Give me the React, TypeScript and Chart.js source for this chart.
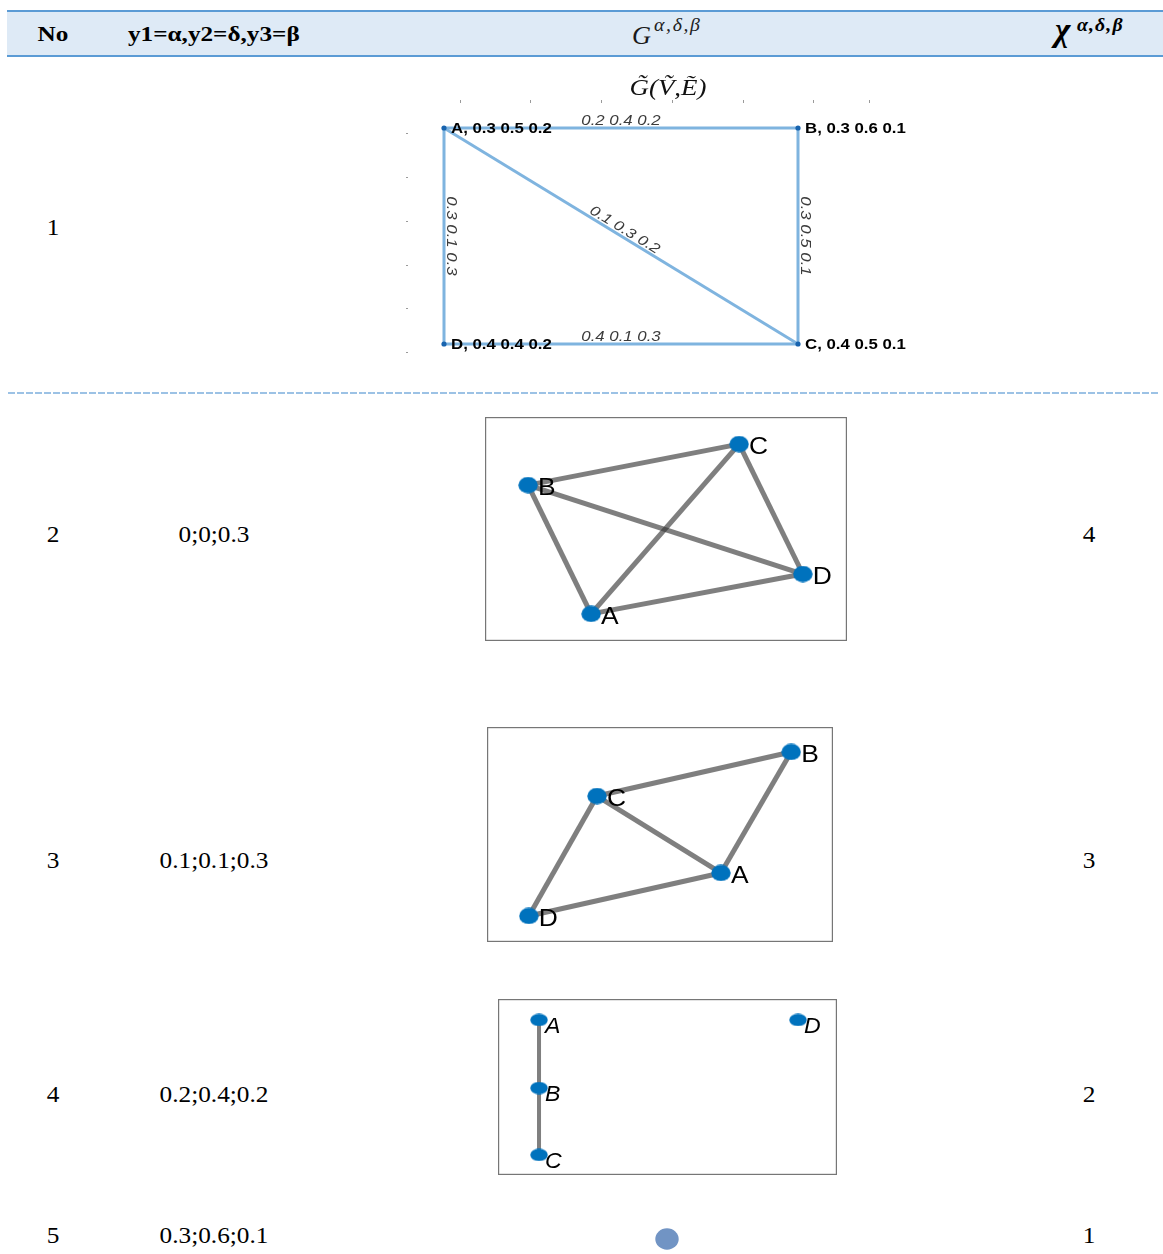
import React, { useEffect, useRef } from "react";
import { Chart, registerables } from "chart.js";

Chart.register(...registerables);

const SERIF = '"Liberation Serif", "Times New Roman", serif';
const SANS = '"Liberation Sans", Arial, sans-serif';

// ---------- table data ----------
const rowNo = ["1", "2", "3", "4", "5"];
const rowThresholds = ["", "0;0;0.3", "0.1;0.1;0.3", "0.2;0.4;0.2", "0.3;0.6;0.1"];
const rowChromatic = ["", "4", "3", "2", "1"];

// ---------- graph 1 : fuzzy graph G~(V~,E~) ----------
const g1Names = ["A", "B", "C", "D"];
const g1X = [0, 1, 1, 0];
const g1Y = [1, 1, 0, 0];
const g1NodeValues = ["0.3 0.5 0.2", "0.3 0.6 0.1", "0.4 0.5 0.1", "0.4 0.4 0.2"];
const g1Edges: [string, string][] = [["A", "B"], ["A", "D"], ["A", "C"], ["B", "C"], ["D", "C"]];
const g1EdgeValues = ["0.2 0.4 0.2", "0.3 0.1 0.3", "0.1 0.3 0.2", "0.3 0.5 0.1", "0.4 0.1 0.3"];
const g1TopTicks = [0.045, 0.243, 0.444, 0.644, 0.845, 1.042, 1.201];
const g1LeftTicks = [0.977, 0.773, 0.569, 0.366, 0.167, -0.037];

// ---------- graph 2 ----------
const g2Names = ["A", "B", "C", "D"];
const g2X = [0.293, 0.119, 0.702, 0.878];
const g2Y = [0.121, 0.696, 0.879, 0.299];
const g2Edges: [string, string][] = [["A", "B"], ["A", "C"], ["A", "D"], ["B", "C"], ["B", "D"], ["C", "D"]];

// ---------- graph 3 ----------
const g3Names = ["A", "B", "C", "D"];
const g3X = [0.676, 0.879, 0.318, 0.121];
const g3Y = [0.321, 0.884, 0.679, 0.121];
const g3Edges: [string, string][] = [["A", "B"], ["A", "C"], ["A", "D"], ["B", "C"], ["C", "D"]];

// ---------- graph 4 ----------
const g4Names = ["A", "B", "C", "D"];
const g4X = [0.121, 0.121, 0.121, 0.885];
const g4Y = [0.881, 0.494, 0.114, 0.881];
const g4Edges: [string, string][] = [["A", "B"], ["B", "C"]];

// ---------- graph 5 ----------
const g5X = [0];
const g5Y = [0];

function ellipseImage(w: number, h: number, color: string) {
  const c = document.createElement("canvas");
  c.width = w;
  c.height = h;
  const ctx = c.getContext("2d")!;
  ctx.fillStyle = color;
  ctx.beginPath();
  ctx.ellipse(w / 2, h / 2, w / 2 - 0.3, h / 2 - 0.3, 0, 0, Math.PI * 2);
  ctx.fill();
  return c;
}

type GraphSpec = {
  names: string[];
  xs: number[];
  ys: number[];
  edges: [string, string][];
  xMin: number;
  xMax: number;
  yMin: number;
  yMax: number;
  edgeColor: string;
  edgeWidth: number;
  node: any;
  nodeRadius: number;
  nodeColor?: string;
  box: boolean;
  labelFont?: string;
  labelDx?: number;
  labelDy?: number;
  labelScale?: number;
  extra?: (chart: any) => void;
};

function makeConfig(s: GraphSpec): any {
  const idx = (n: string) => s.names.indexOf(n);
  const edgeSets = s.edges.map(([a, b]) => ({
    data: [
      { x: s.xs[idx(a)], y: s.ys[idx(a)] },
      { x: s.xs[idx(b)], y: s.ys[idx(b)] },
    ],
    showLine: true,
    borderColor: s.edgeColor,
    borderWidth: s.edgeWidth,
    borderCapStyle: "butt",
    pointRadius: 0,
    pointHoverRadius: 0,
    clip: false,
  }));
  const nodeSet = {
    data: s.xs.map((x, i) => ({ x, y: s.ys[i] })),
    pointStyle: s.node,
    pointRadius: s.nodeRadius,
    pointBackgroundColor: s.nodeColor || "#0072BD",
    pointBorderWidth: 0,
    showLine: false,
    clip: false,
  };
  const plugin = {
    id: "graphDecor",
    beforeDatasetsDraw(chart: any) {
      if (!s.box) return;
      const { ctx, chartArea } = chart;
      ctx.save();
      ctx.strokeStyle = "#767676";
      ctx.lineWidth = 1.2;
      ctx.strokeRect(chartArea.left + 0.6, chartArea.top + 0.6, chartArea.right - chartArea.left - 1.2, chartArea.bottom - chartArea.top - 1.2);
      ctx.restore();
    },
    afterDatasetsDraw(chart: any) {
      const { ctx } = chart;
      const xs = chart.scales.x;
      const ys = chart.scales.y;
      if (s.labelFont) {
        ctx.save();
        ctx.font = s.labelFont;
        ctx.fillStyle = "#000";
        ctx.textAlign = "left";
        ctx.textBaseline = "middle";
        s.names.forEach((n, i) => {
          const px = xs.getPixelForValue(s.xs[i]) + (s.labelDx || 0);
          const py = ys.getPixelForValue(s.ys[i]) + (s.labelDy || 0);
          ctx.save();
          ctx.translate(px, py);
          ctx.scale(s.labelScale || 1, 1);
          ctx.fillText(n, 0, 0);
          ctx.restore();
        });
        ctx.restore();
      }
      if (s.extra) s.extra(chart);
    },
  };
  return {
    type: "scatter",
    data: { datasets: [nodeSet, ...edgeSets] },
    options: {
      animation: false,
      responsive: false,
      maintainAspectRatio: false,
      devicePixelRatio: 1,
      layout: { padding: 0, autoPadding: false },
      events: [],
      scales: {
        x: { type: "linear", min: s.xMin, max: s.xMax, display: false },
        y: { type: "linear", min: s.yMin, max: s.yMax, display: false },
      },
      plugins: { legend: { display: false }, tooltip: { enabled: false }, title: { display: false } },
    },
    plugins: [plugin],
  };
}

function g1Extra(chart: any) {
  const { ctx, chartArea } = chart;
  const xs = chart.scales.x;
  const ys = chart.scales.y;
  ctx.save();
  // title
  ctx.fillStyle = "#111";
  ctx.font = `italic 24px ${SERIF}`;
  ctx.textAlign = "center";
  ctx.textBaseline = "alphabetic";
  ctx.save();
  ctx.translate(chartArea.left + 268, chartArea.top + 33);
  ctx.scale(1.12, 1);
  ctx.fillText("G\u0303(\u1E7C,\u1EBC)", 0, 0);
  ctx.restore();
  // faint tick marks
  ctx.strokeStyle = "#9a9a9a";
  ctx.lineWidth = 1;
  g1TopTicks.forEach((t) => {
    const px = Math.round(xs.getPixelForValue(t)) + 0.5;
    ctx.beginPath();
    ctx.moveTo(px, chartArea.top + 38);
    ctx.lineTo(px, chartArea.top + 41);
    ctx.stroke();
  });
  g1LeftTicks.forEach((t) => {
    const py = Math.round(ys.getPixelForValue(t)) + 0.5;
    ctx.beginPath();
    ctx.moveTo(chartArea.left + 6, py);
    ctx.lineTo(chartArea.left + 8, py);
    ctx.stroke();
  });
  // node labels
  ctx.fillStyle = "#000";
  ctx.font = `bold 14px ${SANS}`;
  ctx.textAlign = "left";
  ctx.textBaseline = "middle";
  g1Names.forEach((n, i) => {
    const px = xs.getPixelForValue(g1X[i]) + 7;
    const py = ys.getPixelForValue(g1Y[i]) + 1;
    ctx.save();
    ctx.translate(px, py);
    ctx.scale(1.2, 1);
    ctx.fillText(`${n}, ${g1NodeValues[i]}`, 0, 0);
    ctx.restore();
  });
  // edge labels
  ctx.fillStyle = "#3c3c3c";
  ctx.font = `italic 14px ${SANS}`;
  ctx.textAlign = "center";
  ctx.textBaseline = "alphabetic";
  g1Edges.forEach(([a, b], k) => {
    const i = g1Names.indexOf(a);
    const j = g1Names.indexOf(b);
    let x1 = xs.getPixelForValue(g1X[i]);
    let y1 = ys.getPixelForValue(g1Y[i]);
    let x2 = xs.getPixelForValue(g1X[j]);
    let y2 = ys.getPixelForValue(g1Y[j]);
    if (x2 < x1 - 0.01) {
      [x1, x2] = [x2, x1];
      [y1, y2] = [y2, y1];
    }
    const ang = Math.atan2(y2 - y1, x2 - x1);
    ctx.save();
    ctx.translate((x1 + x2) / 2, (y1 + y2) / 2);
    ctx.rotate(ang);
    ctx.scale(1.2, 1);
    ctx.fillText(g1EdgeValues[k], 0, -3);
    ctx.restore();
  });
  ctx.restore();
}

function ChartCanvas({ left, top, width, height, make }: { left: number; top: number; width: number; height: number; make: () => any }) {
  const ref = useRef<HTMLCanvasElement>(null);
  useEffect(() => {
    const chart = new Chart(ref.current!, make());
    return () => chart.destroy();
  }, []);
  return (
    <canvas
      ref={ref}
      width={width}
      height={height}
      style={{ position: "absolute", left, top, width, height, display: "block" }}
    />
  );
}

function Txt({
  x,
  y,
  children,
  size,
  weight = "normal",
  fstyle = "normal",
  family = SERIF,
  anchor = "center",
  sx = 1.1,
  color = "#000",
  spacing = 0,
}: any) {
  const tx = anchor === "center" ? "-50%" : "0";
  return (
    <div
      style={{
        position: "absolute",
        left: x,
        top: y,
        transform: `translate(${tx},-50%) scaleX(${sx})`,
        transformOrigin: anchor === "center" ? "center center" : "left center",
        fontFamily: family,
        fontSize: size,
        fontWeight: weight,
        fontStyle: fstyle,
        letterSpacing: spacing,
        lineHeight: 1,
        whiteSpace: "nowrap",
        color,
      }}
    >
      {children}
    </div>
  );
}

const rowCenterY = [227, 534, 860, 1094, 1235];

export default function App() {
  const mk1 = () =>
    makeConfig({
      names: g1Names,
      xs: g1X,
      ys: g1Y,
      edges: g1Edges,
      xMin: (400 - 444) / 354,
      xMax: (930 - 444) / 354,
      yMin: -(372 - 344) / 216,
      yMax: (344 - 62) / 216,
      edgeColor: "#7FB4DF",
      edgeWidth: 3,
      node: "circle",
      nodeRadius: 2.6,
      nodeColor: "#1763AE",
      box: false,
      extra: g1Extra,
    });
  const mk2 = () =>
    makeConfig({
      names: g2Names,
      xs: g2X,
      ys: g2Y,
      edges: g2Edges,
      xMin: 0,
      xMax: 1,
      yMin: 0,
      yMax: 1,
      edgeColor: "rgba(55,55,55,0.64)",
      edgeWidth: 5,
      node: ellipseImage(20, 17, "#0072BD"),
      nodeRadius: 9,
      box: true,
      labelFont: `24px ${SANS}`,
      labelDx: 10,
      labelDy: 3,
      labelScale: 1.1,
    });
  const mk3 = () =>
    makeConfig({
      names: g3Names,
      xs: g3X,
      ys: g3Y,
      edges: g3Edges,
      xMin: 0,
      xMax: 1,
      yMin: 0,
      yMax: 1,
      edgeColor: "rgba(55,55,55,0.64)",
      edgeWidth: 5,
      node: ellipseImage(20, 17, "#0072BD"),
      nodeRadius: 9,
      box: true,
      labelFont: `24px ${SANS}`,
      labelDx: 10,
      labelDy: 3,
      labelScale: 1.1,
    });
  const mk4 = () =>
    makeConfig({
      names: g4Names,
      xs: g4X,
      ys: g4Y,
      edges: g4Edges,
      xMin: 0,
      xMax: 1,
      yMin: 0,
      yMax: 1,
      edgeColor: "rgba(55,55,55,0.64)",
      edgeWidth: 4,
      node: ellipseImage(18, 13, "#0072BD"),
      nodeRadius: 8,
      box: true,
      labelFont: `italic 22px ${SANS}`,
      labelDx: 6,
      labelDy: 7,
      labelScale: 1.05,
    });
  const mk5 = () =>
    makeConfig({
      names: ["V"],
      xs: g5X,
      ys: g5Y,
      edges: [],
      xMin: -1,
      xMax: 1,
      yMin: -1,
      yMax: 1,
      edgeColor: "#888",
      edgeWidth: 1,
      node: ellipseImage(24, 22, "#7194C4"),
      nodeRadius: 11,
      box: false,
    });

  return (
    <div
      style={{
        position: "absolute",
        left: 0,
        top: 0,
        width: 1163,
        height: 1254,
        overflow: "hidden",
        background: "#fff",
      }}
    >
      {/* header band */}
      <div
        style={{
          position: "absolute",
          left: 7,
          top: 10,
          width: 1156,
          height: 47,
          boxSizing: "border-box",
          background: "#DEEAF6",
          borderTop: "2px solid #5B9BD5",
          borderBottom: "2px solid #5B9BD5",
        }}
      />
      <Txt x={52.5} y={33.5} size={21} weight="bold" sx={1.2}>
        No
      </Txt>
      <Txt x={128} y={33.5} size={21} weight="bold" sx={1.2} anchor="left">
        y1=α,y2=δ,y3=β
      </Txt>
      <Txt x={632} y={35} size={25} fstyle="italic" sx={1.05} anchor="left" color="#1a1a1a">
        G
      </Txt>
      <Txt x={654} y={25} size={18} fstyle="italic" sx={1.1} spacing={1.5} anchor="left" color="#222">
        α,δ,β
      </Txt>
      <Txt x={1055} y={30} size={33} fstyle="italic" weight="bold" sx={1.0} anchor="left">
        χ
      </Txt>
      <Txt x={1077} y={25} size={18} fstyle="italic" weight="bold" sx={1.1} spacing={1} anchor="left">
        α,δ,β
      </Txt>

      {/* dashed separator after row 1 */}
      <div
        style={{
          position: "absolute",
          left: 8,
          top: 392,
          width: 1152,
          height: 2,
          backgroundImage: "repeating-linear-gradient(to right, #9CC2E5 0px, #9CC2E5 7px, transparent 7px, transparent 9px)",
        }}
      />

      {/* row texts */}
      {rowNo.map((n, i) => (
        <React.Fragment key={n}>
          <Txt x={52.5} y={rowCenterY[i]} size={23} sx={1.1}>
            {n}
          </Txt>
          {rowThresholds[i] && (
            <Txt x={213.5} y={rowCenterY[i]} size={23} sx={1.1}>
              {rowThresholds[i]}
            </Txt>
          )}
          {rowChromatic[i] && (
            <Txt x={1089} y={rowCenterY[i]} size={23} sx={1.1}>
              {rowChromatic[i]}
            </Txt>
          )}
        </React.Fragment>
      ))}

      {/* graphs */}
      <ChartCanvas left={400} top={62} width={530} height={310} make={mk1} />
      <ChartCanvas left={485} top={417} width={362} height={224} make={mk2} />
      <ChartCanvas left={487} top={727} width={346} height={215} make={mk3} />
      <ChartCanvas left={498} top={999} width={339} height={176} make={mk4} />
      <ChartCanvas left={617} top={1219} width={100} height={40} make={mk5} />
    </div>
  );
}
